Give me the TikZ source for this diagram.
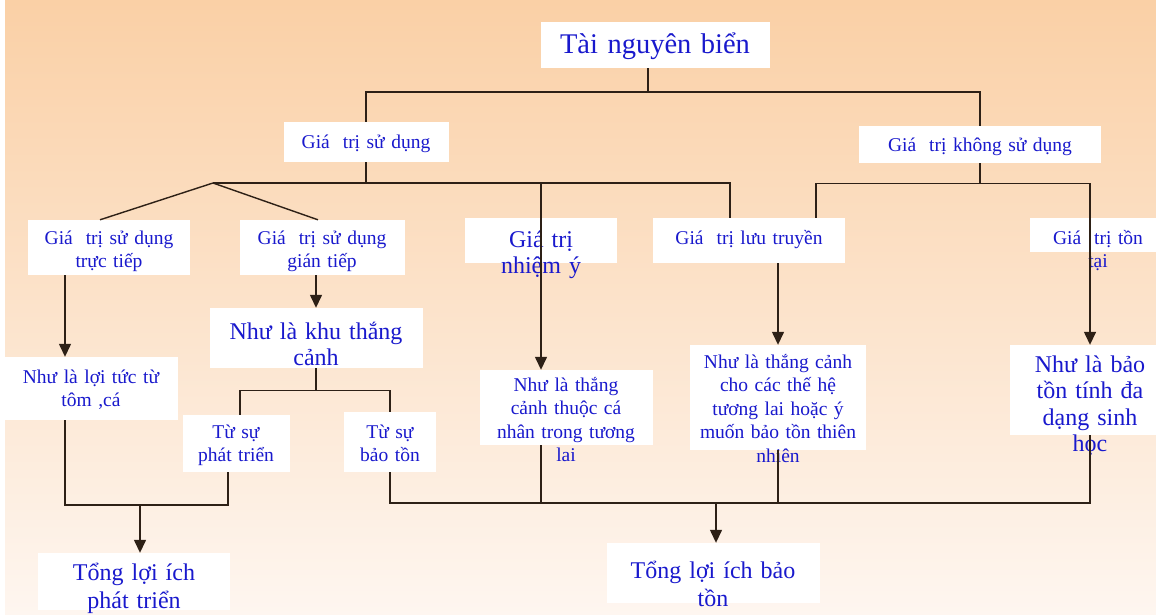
\documentclass[tikz,border=0pt]{standalone}
\usepackage{fontspec}
\setmainfont{Liberation Serif}
\usetikzlibrary{arrows.meta}
\definecolor{bgtop}{RGB}{250,208,166}
\definecolor{bgbot}{RGB}{254,246,240}
\definecolor{txtblue}{RGB}{25,25,205}
\definecolor{linec}{RGB}{45,32,22}

\begin{document}
\begin{tikzpicture}[x=1pt, y=-1pt,
  box/.style={fill=white, text=txtblue, align=center, inner sep=0pt, anchor=base, font=\fontsize{19.5}{23.5}\selectfont},
  bigbox/.style={box, font=\fontsize{24}{26.5}\selectfont},
  line/.style={draw=linec, line width=1.4pt},
  arrow/.style={line, -{Triangle[width=12pt,length=13pt]}}
]
% Nen
\useasboundingbox (0,0) rectangle (1156,615);
\fill[white] (0,0) rectangle (1156,615);
\shade[top color=bgtop, bottom color=bgbot] (5,1) rectangle (1156,615);
% Cac o
\node[box, font=\fontsize{28.5}{30}\selectfont, text width=229, text height=32, text depth=14] (root) at (655,54) {Tài nguyên biển};
\node[box, text width=165, text height=27, text depth=13] (sudung) at (366,149) {Giá~ trị sử dụng};
\node[box, text width=242, text height=25, text depth=12] (khongsd) at (980,151) {Giá~ trị không sử dụng};
\node[box, text width=162, text height=24, text depth=31] (tructiep) at (109,244) {Giá~ trị sử dụng\\trực tiếp};
\node[box, text width=165, text height=24, text depth=31] (giantiep) at (322,244) {Giá~ trị sử dụng\\gián tiếp};
\node[bigbox, text width=152, text height=29, text depth=16] (nhiemy) at (541,247) {Giá trị\\nhiệm ý};
\node[box, text width=192, text height=26, text depth=19] (luutruyen) at (749,244) {Giá~ trị lưu truyền};
\node[box, text width=136, text height=26, text depth=8] (tontai) at (1098,244) {Giá~ trị tồn\\tại};
\node[box, text width=173, text height=26, text depth=37] (loituc) at (91,383) {Như là lợi tức từ\\tôm ,cá};
\node[bigbox, text width=213, text height=31, text depth=29] (thangcanh) at (316,339) {Như là khu thắng\\cảnh};
\node[box, text width=173, text height=21, text depth=54] (canhan) at (566,391) {Như là thắng\\cảnh thuộc cá\\nhân trong tương\\lai};
\node[box, text width=176, text height=23, text depth=82] (thehe) at (778,368) {Như là thắng cảnh\\cho các thế hệ\\tương lai hoặc ý\\muốn bảo tồn thiên\\nhiên};
\node[bigbox, text width=160, text height=27, text depth=63] (dadang) at (1090,372) {Như là bảo\\tồn tính đa\\dạng sinh\\học};
\node[box, text width=107, text height=23, text depth=34] (phattrien) at (236,438) {Từ sự\\phát triển};
\node[box, text width=92, text height=26, text depth=34] (baoton) at (390,438) {Từ sự\\bảo tồn};
\node[bigbox, font=\fontsize{24}{28}\selectfont, text width=192, text height=27, text depth=30] (tongpt) at (134,580) {Tổng lợi ích\\phát triển};
\node[bigbox, font=\fontsize{24}{28}\selectfont, text width=213, text height=35, text depth=25] (tongbt) at (713,578) {Tổng lợi ích bảo\\tồn};
% Cap 1
\coordinate (bar1) at (648,92);
\draw[line] ([xshift=-7]root.south) -- (bar1);
\draw[line] (sudung.north) |- (bar1) -| (khongsd.north);
% Gia tri su dung
\coordinate (fan) at (213,183);
\draw[line] (sudung.south) |- (fan);
\draw[line] (fan) -- ([xshift=-9]tructiep.north);
\draw[line] (fan) -- ([xshift=-4]giantiep.north);
\draw[line] (fan) -| ([xshift=-19]luutruyen.north);
\draw[arrow] (fan -| nhiemy) -- (canhan.north -| nhiemy);
% Gia tri khong su dung
\draw[line] (khongsd.south) -- ++(0,20) coordinate (bar3);
\draw[line] ([xshift=67]luutruyen.north) |- (bar3);
\draw[arrow] (bar3) -| (dadang.north);
% Mui ten xuong
\draw[arrow] ([xshift=-44]tructiep.south) -- ([xshift=-26]loituc.north);
\draw[arrow] ([xshift=-6]giantiep.south) -- (thangcanh.north);
\draw[arrow] ([xshift=29]luutruyen.south) -- (thehe.north);
% Khu thang canh
\draw[line] (thangcanh.south) -- ++(0,22) coordinate (bar4);
\draw[line] ([xshift=4]phattrien.north) |- (bar4) -| (baoton.north);
% Tong loi ich phat trien
\coordinate (bar5) at (140,505);
\draw[line] ([xshift=-26]loituc.south) |- (bar5) -| ([xshift=-8]phattrien.south);
\draw[arrow] (bar5) -- ([xshift=6]tongpt.north);
% Tong loi ich bao ton
\coordinate (bar6) at (716,503);
\draw[line] (baoton.south) |- (bar6) -| (dadang.south);
\draw[line] (canhan.south -| nhiemy) -- (bar6 -| nhiemy);
\draw[line] (thehe.south) -- (thehe.south |- bar6);
\draw[arrow] (bar6) -- ([xshift=3]tongbt.north);
\end{tikzpicture}
\end{document}
